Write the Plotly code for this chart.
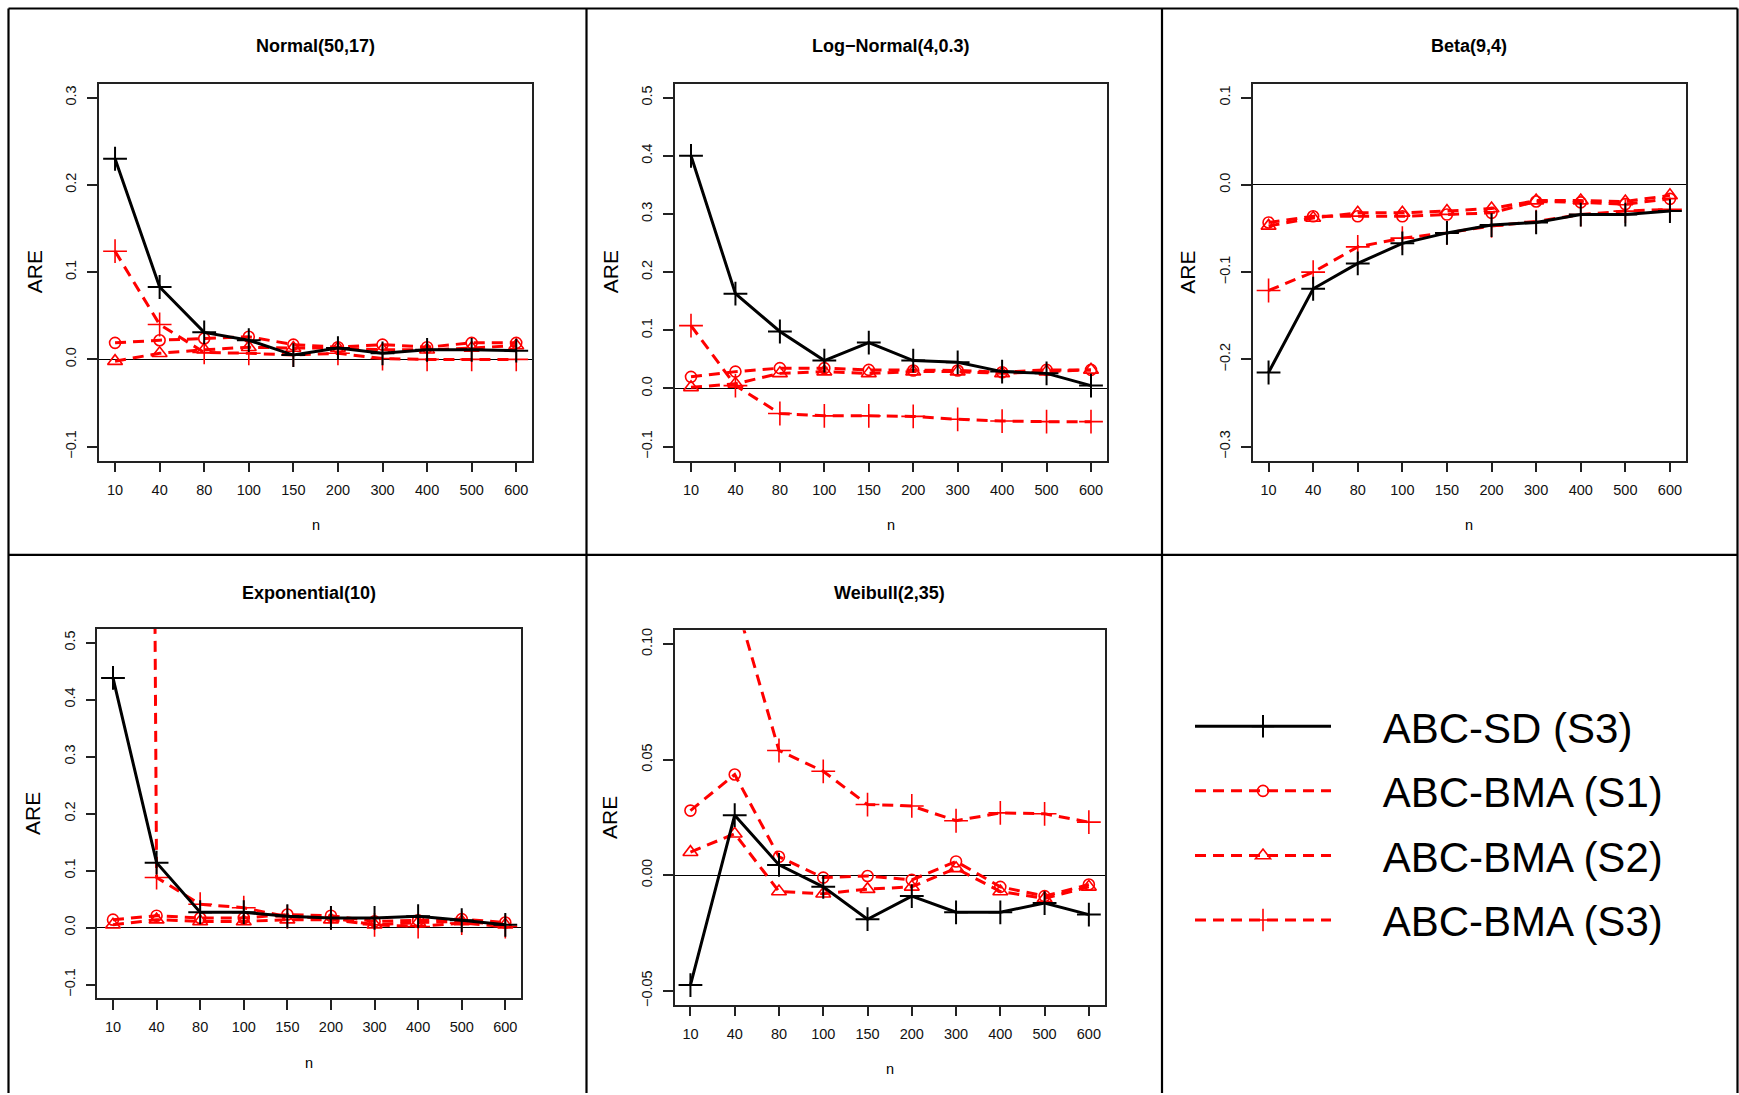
import plotly.graph_objects as go

# ---------------- data ----------------
n_labels = ["10", "40", "80", "100", "150", "200", "300", "400", "500", "600"]
n_pos = [1, 2, 3, 4, 5, 6, 7, 8, 9, 10]

normal_sd = [0.230, 0.083, 0.031, 0.022, 0.005, 0.013, 0.007, 0.011, 0.011, 0.010]
normal_s1 = [0.019, 0.022, 0.024, 0.026, 0.017, 0.014, 0.017, 0.014, 0.019, 0.019]
normal_s2 = [-0.002, 0.007, 0.011, 0.014, 0.013, 0.013, 0.011, 0.011, 0.013, 0.016]
normal_s3 = [0.124, 0.040, 0.008, 0.007, 0.005, 0.007, 0.001, 0.000, 0.000, 0.000]

lognormal_sd = [0.400, 0.163, 0.098, 0.048, 0.079, 0.048, 0.045, 0.029, 0.026, 0.005]
lognormal_s1 = [0.020, 0.029, 0.035, 0.035, 0.032, 0.031, 0.031, 0.028, 0.032, 0.032]
lognormal_s2 = [0.002, 0.008, 0.026, 0.029, 0.026, 0.029, 0.029, 0.026, 0.029, 0.032]
lognormal_s3 = [0.108, 0.005, -0.043, -0.047, -0.047, -0.048, -0.053, -0.056, -0.057, -0.057]

beta_sd = [-0.215, -0.119, -0.090, -0.067, -0.055, -0.046, -0.043, -0.034, -0.034, -0.030]
beta_s1 = [-0.043, -0.036, -0.036, -0.036, -0.034, -0.032, -0.019, -0.020, -0.022, -0.016]
beta_s2 = [-0.047, -0.038, -0.032, -0.032, -0.030, -0.027, -0.018, -0.018, -0.019, -0.012]
beta_s3 = [-0.121, -0.100, -0.071, -0.061, -0.055, -0.047, -0.042, -0.034, -0.030, -0.028]

expo_sd = [0.438, 0.114, 0.027, 0.027, 0.020, 0.017, 0.017, 0.020, 0.013, 0.005]
expo_s1 = [0.014, 0.021, 0.017, 0.017, 0.023, 0.021, 0.011, 0.013, 0.015, 0.009]
expo_s2 = [0.005, 0.014, 0.011, 0.011, 0.014, 0.014, 0.005, 0.009, 0.011, 0.005]
expo_s3 = [12.5, 0.088, 0.041, 0.035, 0.019, 0.017, 0.005, 0.002, 0.008, 0.002]

weibull_sd = [-0.0475, 0.026, 0.0045, -0.005, -0.019, -0.009, -0.016, -0.016, -0.012, -0.017]
weibull_s1 = [0.028, 0.0436, 0.008, -0.001, -0.0003, -0.002, 0.006, -0.005, -0.009, -0.004]
weibull_s2 = [0.010, 0.018, -0.007, -0.008, -0.006, -0.005, 0.003, -0.007, -0.010, -0.005]
weibull_s3 = [0.20, 0.12, 0.054, 0.045, 0.0306, 0.030, 0.0236, 0.027, 0.0266, 0.023]

panel_titles = ["Normal(50,17)", "Log\u2212Normal(4,0.3)", "Beta(9,4)", "Exponential(10)", "Weibull(2,35)"]
panel_ylims = [(-0.1, 0.3), (-0.1, 0.5), (-0.3, 0.1), (-0.1, 0.5), (-0.05, 0.10)]
panel_dticks = [0.1, 0.1, 0.1, 0.1, 0.05]
panel_formats = [".1f", ".1f", ".1f", ".1f", ".2f"]
panel_data = [
    (normal_sd, normal_s1, normal_s2, normal_s3),
    (lognormal_sd, lognormal_s1, lognormal_s2, lognormal_s3),
    (beta_sd, beta_s1, beta_s2, beta_s3),
    (expo_sd, expo_s1, expo_s2, expo_s3),
    (weibull_sd, weibull_s1, weibull_s2, weibull_s3),
]
series_names = ["ABC-SD (S3)", "ABC-BMA (S1)", "ABC-BMA (S2)", "ABC-BMA (S3)"]

# ---------------- layout geometry (pixels) ----------------
W, H = 1739, 1095
boxes = [
    (99.0, 532.3, 82.0, 460.3),
    (675.0, 1107.0, 82.0, 460.3),
    (1252.5, 1686.0, 82.0, 460.3),
    (97.3, 521.0, 629.2, 1000.0),
    (674.5, 1104.8, 630.6, 1006.4),
]
title_y = [44.6, 44.6, 44.6, 593.4, 593.4]

FONT = "Liberation Sans, Arial, Helvetica, sans-serif"
RED = "#ff0000"
NBSP = "\u00a0"


def px(x):
    return x / W


def py(y):
    return 1 - y / H


styles = [
    dict(line=dict(color="black", width=3, dash="solid"),
         marker=dict(symbol="cross-thin-open", size=17, color="black",
                     line=dict(color="black", width=2))),
    dict(line=dict(color=RED, width=3, dash="11px,7px"),
         marker=dict(symbol="circle-open", size=11, color=RED,
                     line=dict(color=RED, width=1.6))),
    dict(line=dict(color=RED, width=3, dash="11px,7px"),
         marker=dict(symbol="triangle-up-open", size=13, color=RED,
                     line=dict(color=RED, width=1.6))),
    dict(line=dict(color=RED, width=3, dash="11px,7px"),
         marker=dict(symbol="cross-thin-open", size=17, color=RED,
                     line=dict(color=RED, width=1.6))),
]

fig = go.Figure()
draw_order = [1, 2, 3, 0]
for p, series in enumerate(panel_data):
    ax = "" if p == 0 else str(p + 1)
    for s in draw_order:
        fig.add_trace(go.Scatter(
            x=n_pos, y=series[s], mode="lines+markers",
            name=NBSP * 4 + series_names[s],
            legendrank=s + 1,
            legendgroup=series_names[s],
            showlegend=(p == 0),
            xaxis="x" + ax, yaxis="y" + ax,
            line=styles[s]["line"], marker=styles[s]["marker"],
        ))

layout = dict(
    width=W, height=H, autosize=False,
    margin=dict(l=0, r=0, t=0, b=0),
    paper_bgcolor="white", plot_bgcolor="white",
    font=dict(family=FONT, color="black"),
    showlegend=True,
    legend=dict(
        x=px(1190), y=py(693), xanchor="left", yanchor="top",
        font=dict(family=FONT, size=42, color="black"),
        itemwidth=136, tracegroupgap=7, bgcolor="rgba(0,0,0,0)",
        itemclick=False, itemdoubleclick=False,
    ),
)

annotations = []
for p in range(5):
    x0, x1, y0, y1 = boxes[p]
    ax = "" if p == 0 else str(p + 1)
    lo, hi = panel_ylims[p]
    pad = 0.04 * (hi - lo)
    axis_common = dict(
        showline=True, mirror=True, linecolor="#222", linewidth=1.5,
        ticks="outside", ticklen=10, tickwidth=1.5, tickcolor="#222",
        showgrid=False, ticklabelstandoff=5,
        tickfont=dict(family=FONT, size=14.5, color="#111"),
    )
    layout["xaxis" + ax] = dict(
        domain=[px(x0), px(x1)], anchor="y" + ax,
        range=[0.64, 10.36], tickmode="array", tickvals=n_pos, ticktext=n_labels,
        zeroline=False, **axis_common,
    )
    layout["yaxis" + ax] = dict(
        domain=[py(y1), py(y0)], anchor="x" + ax,
        range=[lo - pad, hi + pad], tick0=0, dtick=panel_dticks[p],
        tickformat=panel_formats[p], tickangle=-90,
        zeroline=True, zerolinecolor="black", zerolinewidth=1.3,
        **axis_common,
    )
    annotations.append(dict(
        text="<b>%s</b>" % panel_titles[p], xref="paper", yref="paper",
        x=px((x0 + x1) / 2), y=py(title_y[p]), xanchor="center", yanchor="middle",
        showarrow=False, font=dict(family=FONT, size=18, color="black"),
    ))
    annotations.append(dict(
        text="ARE", xref="paper", yref="paper",
        x=px(x0 - 65), y=py((y0 + y1) / 2), xanchor="center", yanchor="middle",
        textangle=-90, showarrow=False, font=dict(family=FONT, size=21, color="black"),
    ))
    annotations.append(dict(
        text="n", xref="paper", yref="paper",
        x=px((x0 + x1) / 2), y=py(y1 + 65), xanchor="center", yanchor="middle",
        showarrow=False, font=dict(family=FONT, size=14.5, color="black"),
    ))

layout["annotations"] = annotations

# cell frame lines
frame_x = [8.5, 586.5, 1162.0, 1737.5]
frame_top, frame_mid = 6.5, 555.0
shapes = []
shapes.append(dict(type="line", xref="paper", yref="paper",
                   x0=px(frame_x[0]), x1=px(frame_x[-1]), y0=py(frame_top), y1=py(frame_top),
                   line=dict(color="black", width=2.2)))
shapes.append(dict(type="line", xref="paper", yref="paper",
                   x0=px(frame_x[0]), x1=px(frame_x[-1]), y0=py(frame_mid), y1=py(frame_mid),
                   line=dict(color="black", width=2.2)))
for fx in frame_x:
    shapes.append(dict(type="line", xref="paper", yref="paper",
                       x0=px(fx), x1=px(fx), y0=py(frame_top), y1=0,
                       line=dict(color="black", width=2.2)))
layout["shapes"] = shapes

fig.update_layout(**layout)
fig.write_html(
    "out.html", include_plotlyjs=True, config={"displayModeBar": False},
    post_script="document.body.style.margin='0';document.body.style.overflow='hidden';",
)
